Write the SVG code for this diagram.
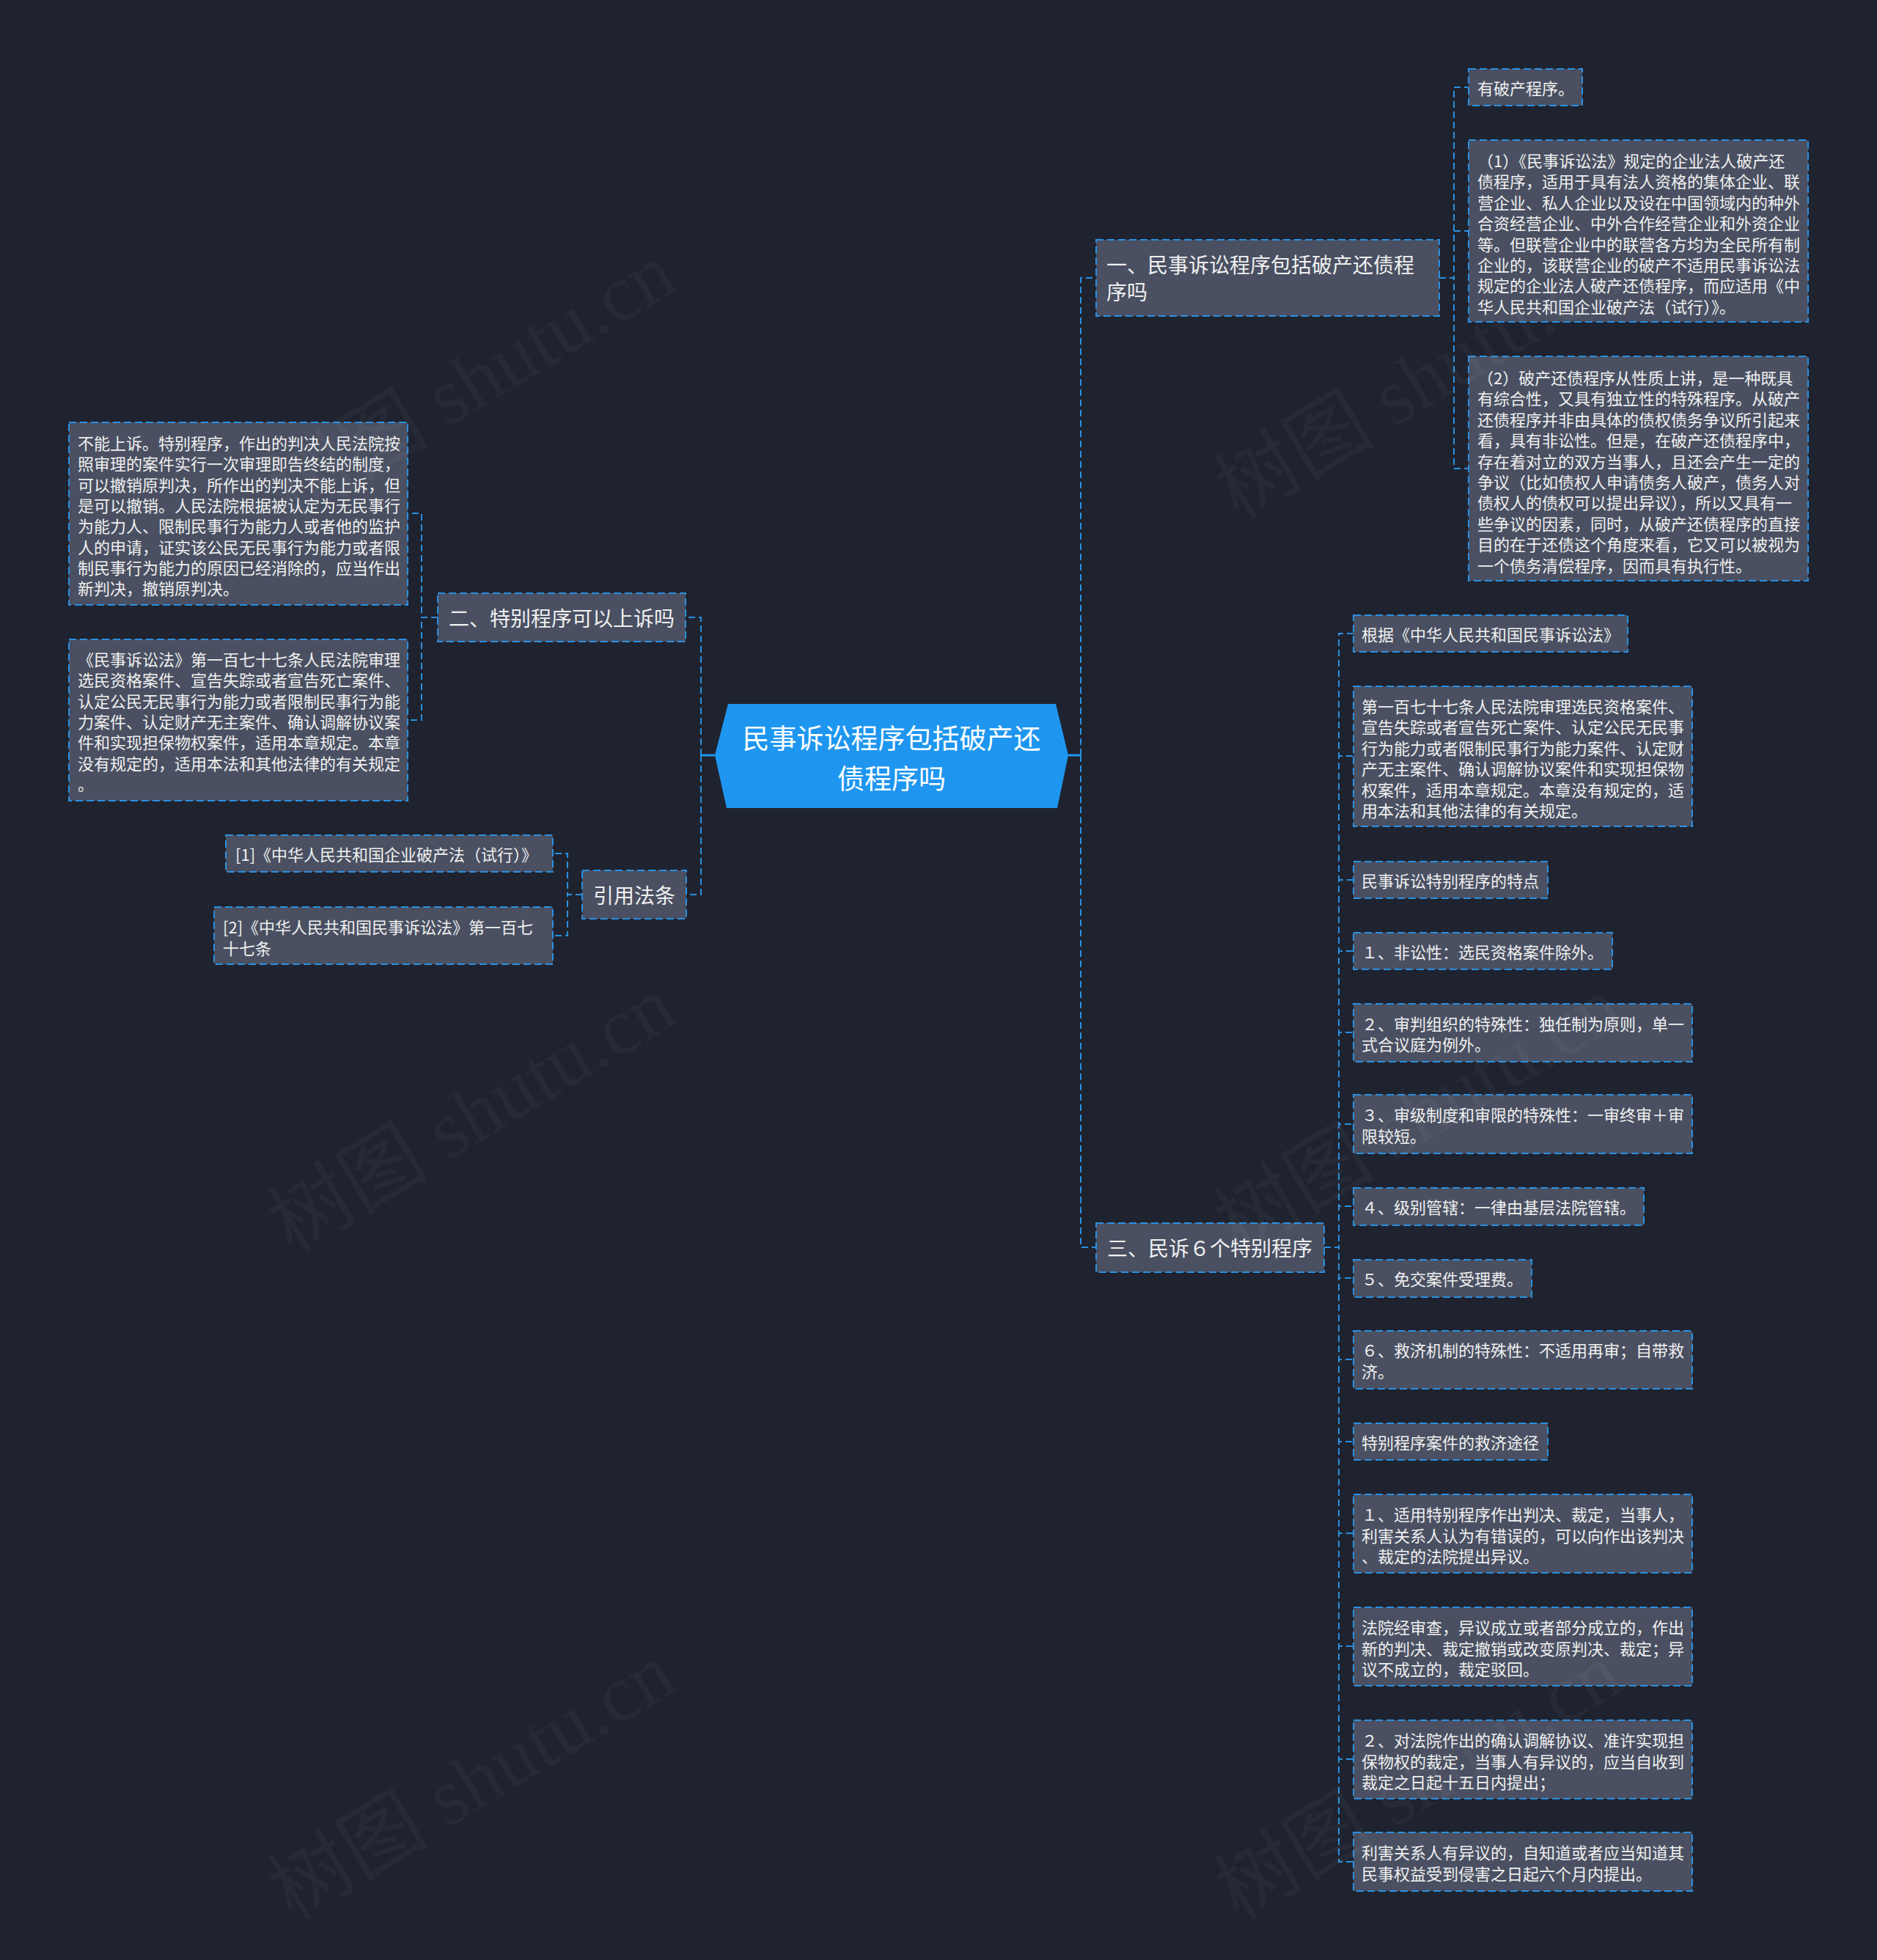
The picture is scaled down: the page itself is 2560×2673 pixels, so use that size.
<svg xmlns="http://www.w3.org/2000/svg" width="2560" height="2673" viewBox="0 0 2560 2673">
<defs>
<style>
.nd rect{fill:#4a5062;stroke:#2a8fe0;stroke-width:2;stroke-dasharray:10 5}
.nd text{fill:#f0f0f0;font-family:"Noto Sans CJK SC","Noto Sans",sans-serif;dominant-baseline:central}
.f28{font-size:28px}
.f22{font-size:22px}
.cn{fill:none;stroke:#2a8fe0;stroke-width:2;stroke-dasharray:9 5}
.cs{fill:none;stroke:#1e96f0;stroke-width:3}
.wm{font-family:"Liberation Serif","Noto Sans CJK SC",serif;font-size:110px;fill:#ffffff;fill-opacity:0.035;text-anchor:middle;dominant-baseline:central}
</style>
</defs>
<rect x="0" y="0" width="2560" height="2673" fill="#1f232f"/>

<g id="connectors">
<path class="cs" d="M975,1030 H956"/>
<path class="cs" d="M1457,1030 H1474"/>
<path class="cn" d="M956,1030 V842 H935"/>
<path class="cn" d="M956,1030 V1220 H936"/>
<path class="cn" d="M1474,1030 V379 H1495"/>
<path class="cn" d="M1474,1030 V1701 H1495"/>
<path class="cn" d="M1963,379 H1983 V119 H2003"/>
<path class="cn" d="M1963,379 H1983 V315 H2003"/>
<path class="cn" d="M1963,379 H1983 V639 H2003"/>
<path class="cn" d="M597,842 H575 V700 H556"/>
<path class="cn" d="M597,842 H575 V982 H556"/>
<path class="cn" d="M794,1220 H774 V1164 H754"/>
<path class="cn" d="M794,1220 H774 V1276 H754"/>
<path class="cn" d="M1806,1701 H1826 V864 H1846"/>
<path class="cn" d="M1806,1701 H1826 V1031 H1846"/>
<path class="cn" d="M1806,1701 H1826 V1200 H1846"/>
<path class="cn" d="M1806,1701 H1826 V1297 H1846"/>
<path class="cn" d="M1806,1701 H1826 V1408 H1846"/>
<path class="cn" d="M1806,1701 H1826 V1533 H1846"/>
<path class="cn" d="M1806,1701 H1826 V1645 H1846"/>
<path class="cn" d="M1806,1701 H1826 V1743 H1846"/>
<path class="cn" d="M1806,1701 H1826 V1854 H1846"/>
<path class="cn" d="M1806,1701 H1826 V1966 H1846"/>
<path class="cn" d="M1806,1701 H1826 V2091 H1846"/>
<path class="cn" d="M1806,1701 H1826 V2245 H1846"/>
<path class="cn" d="M1806,1701 H1826 V2399 H1846"/>
<path class="cn" d="M1806,1701 H1826 V2539 H1846"/>
</g>

<g id="center">
<polygon points="993,960 1440,960 1457,1030 1442,1102 991,1102 975,1030" fill="#1e96f0"/>
<text font-family="Noto Sans CJK SC,Noto Sans,sans-serif" font-size="37" fill="#ffffff" text-anchor="middle" dominant-baseline="central"><tspan x="1216" y="1005">民事诉讼程序包括破产还</tspan><tspan x="1216" y="1060">债程序吗</tspan></text>
</g>

<g id="n1" class="nd">
<rect x="1495" y="327" width="468" height="104"/>
<text class="f28" x="1509" y="360">一、民事诉讼程序包括破产还债程</text>
<text class="f28" x="1509" y="397">序吗</text>
</g>

<g id="n1a" class="nd">
<rect x="2003" y="94" width="155" height="50"/>
<text class="f22" x="2015" y="119">有破产程序。</text>
</g>

<g id="n1b" class="nd">
<rect x="2003" y="191" width="463" height="248"/>
<text class="f22" x="2015" y="218">（1）《民事诉讼法》规定的企业法人破产还</text>
<text class="f22" x="2015" y="246.4">债程序，适用于具有法人资格的集体企业、联</text>
<text class="f22" x="2015" y="274.8">营企业、私人企业以及设在中国领域内的种外</text>
<text class="f22" x="2015" y="303.2">合资经营企业、中外合作经营企业和外资企业</text>
<text class="f22" x="2015" y="331.6">等。但联营企业中的联营各方均为全民所有制</text>
<text class="f22" x="2015" y="360">企业的，该联营企业的破产不适用民事诉讼法</text>
<text class="f22" x="2015" y="388.4">规定的企业法人破产还债程序，而应适用《中</text>
<text class="f22" x="2015" y="416.8">华人民共和国企业破产法（试行）》。</text>
</g>

<g id="n1c" class="nd">
<rect x="2003" y="486" width="463" height="306"/>
<text class="f22" x="2015" y="514">（2）破产还债程序从性质上讲，是一种既具</text>
<text class="f22" x="2015" y="542.4">有综合性，又具有独立性的特殊程序。从破产</text>
<text class="f22" x="2015" y="570.8">还债程序并非由具体的债权债务争议所引起来</text>
<text class="f22" x="2015" y="599.2">看，具有非讼性。但是，在破产还债程序中，</text>
<text class="f22" x="2015" y="627.6">存在着对立的双方当事人，且还会产生一定的</text>
<text class="f22" x="2015" y="656">争议（比如债权人申请债务人破产，债务人对</text>
<text class="f22" x="2015" y="684.4">债权人的债权可以提出异议），所以又具有一</text>
<text class="f22" x="2015" y="712.8">些争议的因素，同时，从破产还债程序的直接</text>
<text class="f22" x="2015" y="741.2">目的在于还债这个角度来看，它又可以被视为</text>
<text class="f22" x="2015" y="769.6">一个债务清偿程序，因而具有执行性。</text>
</g>

<g id="n2" class="nd">
<rect x="597" y="809" width="338" height="66"/>
<text class="f28" x="612" y="842">二、特别程序可以上诉吗</text>
</g>

<g id="n2a" class="nd">
<rect x="94" y="576" width="462" height="249"/>
<text class="f22" x="106" y="603">不能上诉。特别程序，作出的判决人民法院按</text>
<text class="f22" x="106" y="631.3">照审理的案件实行一次审理即告终结的制度，</text>
<text class="f22" x="106" y="659.6">可以撤销原判决，所作出的判决不能上诉，但</text>
<text class="f22" x="106" y="687.9">是可以撤销。人民法院根据被认定为无民事行</text>
<text class="f22" x="106" y="716.2">为能力人、限制民事行为能力人或者他的监护</text>
<text class="f22" x="106" y="744.5">人的申请，证实该公民无民事行为能力或者限</text>
<text class="f22" x="106" y="772.8">制民事行为能力的原因已经消除的，应当作出</text>
<text class="f22" x="106" y="801.1">新判决，撤销原判决。</text>
</g>

<g id="n2b" class="nd">
<rect x="94" y="872" width="462" height="220"/>
<text class="f22" x="106" y="898">《民事诉讼法》第一百七十七条人民法院审理</text>
<text class="f22" x="106" y="926.3">选民资格案件、宣告失踪或者宣告死亡案件、</text>
<text class="f22" x="106" y="954.6">认定公民无民事行为能力或者限制民事行为能</text>
<text class="f22" x="106" y="982.9">力案件、认定财产无主案件、确认调解协议案</text>
<text class="f22" x="106" y="1011.2">件和实现担保物权案件，适用本章规定。本章</text>
<text class="f22" x="106" y="1039.5">没有规定的，适用本法和其他法律的有关规定</text>
<text class="f22" x="106" y="1067.8">。</text>
</g>

<g id="n3" class="nd">
<rect x="794" y="1187" width="142" height="66"/>
<text class="f28" x="809" y="1220">引用法条</text>
</g>

<g id="n3a" class="nd">
<rect x="308" y="1139" width="446" height="50"/>
<text class="f22" x="321" y="1164">[1]《中华人民共和国企业破产法（试行）》</text>
</g>

<g id="n3b" class="nd">
<rect x="292" y="1237" width="462" height="78"/>
<text class="f22" x="304" y="1263">[2]《中华人民共和国民事诉讼法》第一百七</text>
<text class="f22" x="304" y="1291.5">十七条</text>
</g>

<g id="n4" class="nd">
<rect x="1495" y="1668" width="311" height="67"/>
<text class="f28" x="1510" y="1701">三、民诉６个特别程序</text>
</g>

<g id="n4a" class="nd">
<rect x="1846" y="839" width="374" height="50"/>
<text class="f22" x="1857" y="864">根据《中华人民共和国民事诉讼法》</text>
</g>

<g id="n4b" class="nd">
<rect x="1846" y="936" width="462" height="191"/>
<text class="f22" x="1857" y="962">第一百七十七条人民法院审理选民资格案件、</text>
<text class="f22" x="1857" y="990.4">宣告失踪或者宣告死亡案件、认定公民无民事</text>
<text class="f22" x="1857" y="1018.8">行为能力或者限制民事行为能力案件、认定财</text>
<text class="f22" x="1857" y="1047.2">产无主案件、确认调解协议案件和实现担保物</text>
<text class="f22" x="1857" y="1075.6">权案件，适用本章规定。本章没有规定的，适</text>
<text class="f22" x="1857" y="1104">用本法和其他法律的有关规定。</text>
</g>

<g id="n4c" class="nd">
<rect x="1846" y="1175" width="265" height="50"/>
<text class="f22" x="1857" y="1200">民事诉讼特别程序的特点</text>
</g>

<g id="n4d" class="nd">
<rect x="1846" y="1272" width="353" height="50"/>
<text class="f22" x="1857" y="1297">１、非讼性：选民资格案件除外。</text>
</g>

<g id="n4e" class="nd">
<rect x="1846" y="1369" width="462" height="79"/>
<text class="f22" x="1857" y="1394.5">２、审判组织的特殊性：独任制为原则，单一</text>
<text class="f22" x="1857" y="1423">式合议庭为例外。</text>
</g>

<g id="n4f" class="nd">
<rect x="1846" y="1493" width="462" height="80"/>
<text class="f22" x="1857" y="1519">３、审级制度和审限的特殊性：一审终审＋审</text>
<text class="f22" x="1857" y="1548">限较短。</text>
</g>

<g id="n4g" class="nd">
<rect x="1846" y="1620" width="396" height="51"/>
<text class="f22" x="1857" y="1645">４、级别管辖：一律由基层法院管辖。</text>
</g>

<g id="n4h" class="nd">
<rect x="1846" y="1718" width="243" height="51"/>
<text class="f22" x="1857" y="1743">５、免交案件受理费。</text>
</g>

<g id="n4i" class="nd">
<rect x="1846" y="1815" width="462" height="79"/>
<text class="f22" x="1857" y="1840">６、救济机制的特殊性：不适用再审；自带救</text>
<text class="f22" x="1857" y="1869">济。</text>
</g>

<g id="n4j" class="nd">
<rect x="1846" y="1941" width="265" height="50"/>
<text class="f22" x="1857" y="1966">特别程序案件的救济途径</text>
</g>

<g id="n4k" class="nd">
<rect x="1846" y="2038" width="462" height="107"/>
<text class="f22" x="1857" y="2064">１、适用特别程序作出判决、裁定，当事人，</text>
<text class="f22" x="1857" y="2092.5">利害关系人认为有错误的，可以向作出该判决</text>
<text class="f22" x="1857" y="2121">、裁定的法院提出异议。</text>
</g>

<g id="n4l" class="nd">
<rect x="1846" y="2192" width="462" height="107"/>
<text class="f22" x="1857" y="2218">法院经审查，异议成立或者部分成立的，作出</text>
<text class="f22" x="1857" y="2246.5">新的判决、裁定撤销或改变原判决、裁定；异</text>
<text class="f22" x="1857" y="2275">议不成立的，裁定驳回。</text>
</g>

<g id="n4m" class="nd">
<rect x="1846" y="2346" width="462" height="107"/>
<text class="f22" x="1857" y="2372">２、对法院作出的确认调解协议、准许实现担</text>
<text class="f22" x="1857" y="2400.5">保物权的裁定，当事人有异议的，应当自收到</text>
<text class="f22" x="1857" y="2429">裁定之日起十五日内提出；</text>
</g>

<g id="n4n" class="nd">
<rect x="1846" y="2499" width="462" height="80"/>
<text class="f22" x="1857" y="2525">利害关系人有异议的，自知道或者应当知道其</text>
<text class="f22" x="1857" y="2554">民事权益受到侵害之日起六个月内提出。</text>
</g>

<g id="watermark">
<text class="wm" transform="translate(644,520) rotate(-31)">树图 shutu.cn</text>
<text class="wm" transform="translate(644,1520) rotate(-31)">树图 shutu.cn</text>
<text class="wm" transform="translate(644,2430) rotate(-31)">树图 shutu.cn</text>
<text class="wm" transform="translate(1934,520) rotate(-31)">树图 shutu.cn</text>
<text class="wm" transform="translate(1934,1520) rotate(-31)">树图 shutu.cn</text>
<text class="wm" transform="translate(1934,2430) rotate(-31)">树图 shutu.cn</text>
</g>
</svg>
